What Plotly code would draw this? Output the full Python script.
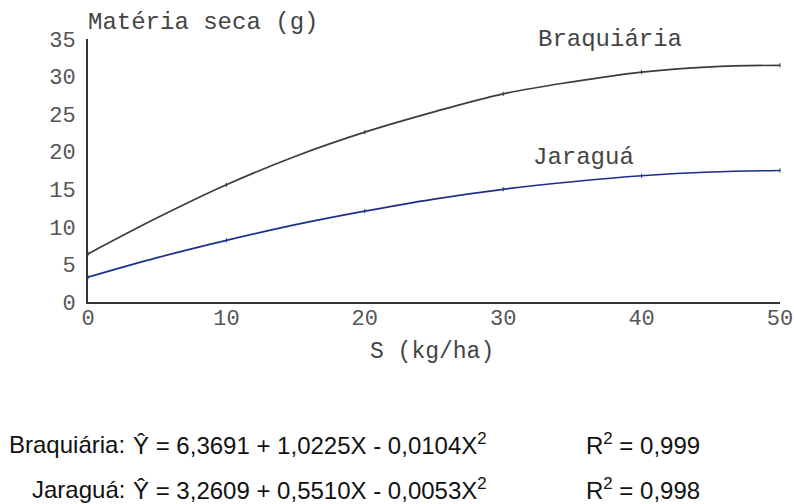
import plotly.graph_objects as go

dose = [0, 5, 10, 15, 20, 25, 30, 35, 40, 45, 50]
braquiaria = [6.4, 11.2, 15.6, 19.4, 22.6, 25.3, 27.7, 29.3, 30.6, 31.3, 31.5]
jaragua = [3.3, 5.9, 8.2, 10.3, 12.1, 13.7, 15.0, 16.0, 16.8, 17.3, 17.5]
x_ticks = [0, 10, 20, 30, 40, 50]
y_ticks = [0, 5, 10, 15, 20, 25, 30, 35]

MONO = "Liberation Mono, Courier New, monospace"
SANS = "Liberation Sans, Arial, sans-serif"

W, H = 794, 504
L, R, T, B = 88, 14, 39, 202
pw, ph = W - L - R, H - T - B

def px(x):
    return (x - L) / pw

def py(y):
    return (H - B - y) / ph

fig = go.Figure()
for name, ys, col in [("Braquiária", braquiaria, "#3c3c3c"), ("Jaraguá", jaragua, "#1c2f8c")]:
    fig.add_trace(go.Scatter(x=dose, y=ys, mode="lines", name=name,
                             line=dict(color=col, width=1.7, shape="spline", smoothing=1.0),
                             showlegend=False, hoverinfo="skip", cliponaxis=False))
    fig.add_trace(go.Scatter(x=dose[::2], y=ys[::2], mode="markers", showlegend=False,
                             marker=dict(symbol="line-ns-open", size=3, color=col,
                                         line=dict(width=1, color=col)),
                             hoverinfo="skip", cliponaxis=False))

def ann(x, y, text, family, size, color, xanchor="center", xref="paper", yref="paper"):
    return dict(x=x, y=y, xref=xref, yref=yref, xanchor=xanchor, yanchor="middle",
                text=text, showarrow=False, font=dict(family=family, size=size, color=color))

annots = [
    ann(37.7, 34.9, "Braquiária", MONO, 24, "#444", xref="x", yref="y"),
    ann(35.8, 19.2, "Jaraguá", MONO, 24, "#444", xref="x", yref="y"),
    ann(px(86), py(23), "Matéria seca (g)", MONO, 24, "#444", xanchor="left"),
    ann(px(432), py(352), "S (kg/ha)", MONO, 23, "#444"),
    ann(px(127), py(444), "Braquiária:", SANS, 24, "#111", xanchor="right"),
    ann(px(131), py(444), "Ŷ = 6,3691 + 1,0225X - 0,0104X<sup>2</sup>", SANS, 24, "#111", xanchor="left"),
    ann(px(584), py(444), "R<sup>2</sup> = 0,999", SANS, 24, "#111", xanchor="left"),
    ann(px(127), py(489), "Jaraguá:", SANS, 24, "#111", xanchor="right"),
    ann(px(131), py(489), "Ŷ = 3,2609 + 0,5510X - 0,0053X<sup>2</sup>", SANS, 24, "#111", xanchor="left"),
    ann(px(584), py(489), "R<sup>2</sup> = 0,998", SANS, 24, "#111", xanchor="left"),
]

fig.update_layout(
    width=W, height=H, margin=dict(l=L, r=R, t=T, b=B, autoexpand=False),
    paper_bgcolor="white", plot_bgcolor="white",
    annotations=annots,
    xaxis=dict(range=[0, 50], tickvals=x_ticks, ticktext=[str(v) for v in x_ticks],
               showgrid=False, zeroline=False, showline=True, linecolor="#333", linewidth=2,
               ticks="", automargin=False, ticklabelstandoff=-5,
               tickfont=dict(family=MONO, size=22, color="#555")),
    yaxis=dict(range=[0, 35], tickvals=y_ticks, ticktext=[str(v) for v in y_ticks],
               showgrid=False, zeroline=False, showline=True, linecolor="#333", linewidth=2,
               ticks="", automargin=False, ticklabelstandoff=6,
               tickfont=dict(family=MONO, size=22, color="#555")),
)

fig.write_html("out.html", config={"displayModeBar": False},
               post_script="document.body.style.margin='0';document.body.style.overflow='hidden';")
